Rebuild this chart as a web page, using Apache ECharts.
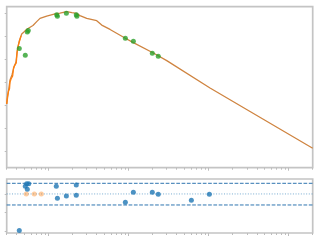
<!DOCTYPE html>
<html><head><meta charset="utf-8">
<script src="https://cdn.jsdelivr.net/npm/echarts@6/dist/echarts.min.js"></script>
<style>html,body{margin:0;padding:0;background:#fff}#c{width:320px;height:240px}</style>
</head><body><div id="c"></div>
<script>
// model curve (frequency, value)
const modelFreq = [3.0,3.11,3.30,3.49,3.70,3.92,4.07,4.31,4.62,4.93,5.23,5.54,5.86,6.39,7.11,7.82,9.48,12.05,13.9,16.87,19.6,22.5,24.7,30.0,40.0,46.2,58.7,91.2,114.8,204,300,1042,3297,20000];
const modelVal  = [2.07,2.46,3.11,3.33,3.67,3.89,4.41,4.80,5.10,5.19,5.28,5.34,5.41,5.47,5.64,5.78,5.88,5.97,6.01,6.07,6.03,6.00,5.90,5.78,5.68,5.49,5.30,4.92,4.73,4.28,3.95,2.76,1.74,0.15];
// raw measured trace (early part)
const rawFreq = [3.0,3.07,3.16,3.25,3.30,3.40,3.49,3.56,3.65,3.75,3.86,3.95,4.04,4.10,4.21,4.34,4.53];
const rawVal  = [2.07,2.41,2.63,2.72,3.02,3.15,3.19,3.28,3.63,3.72,3.76,3.85,4.28,4.41,4.63,4.80,5.02];
// fitted points
const ptFreq = [4.31,5.12,5.43,5.58,12.65,12.9,16.7,22.2,22.6,91.2,114.8,198,235];
const ptVal  = [4.47,4.18,5.19,5.25,5.94,5.87,6.00,5.94,5.87,4.92,4.79,4.27,4.14];
// residuals
const resFreq = [4.31,5.12,5.33,5.65,5.43,12.5,12.9,16.7,22.2,22.2,91.2,114.8,198,235,609,1022];
const resVal  = [-1.95,0.41,0.54,0.54,0.25,0.41,-0.23,-0.11,0.48,-0.07,-0.45,0.09,0.09,-0.02,-0.34,-0.02];
// masked residuals
const maskFreq = [5.27,6.64,8.12];
const maskVal  = [0,0,0];
// band limits
const bandUpper = 0.57, bandLower = -0.59, bandCenter = 0;
const xMin = 3, xMax = 20000;
const majorTicks = [10,100,1000,10000];
const minorTicks = [];
for (let e = 0; e <= 4; e++) for (let k = 2; k <= 9; k++) { const v = k * Math.pow(10, e); if (v >= xMin && v <= xMax) minorTicks.push(v); }
const topTicks = [0,1,2,3,4,5,6];
const botTicks = [-2,-1,0];

const zip = (a, b) => a.map((v, i) => [v, b[i]]);
const gray = '#bdbdbd';
function xAx(grid, ticks, len) {
  return {type:'log', logBase:10, gridIndex:grid, position:'bottom', min:xMin, max:xMax,
    axisLine:{show:false, onZero:false}, axisLabel:{show:false}, splitLine:{show:false}, minorTick:{show:false},
    axisTick:{show:true, length:len, inside:false, lineStyle:{color:gray, width:1}, customValues:ticks}};
}
function yAx(grid, mn, mx, ticks) {
  return {type:'value', gridIndex:grid, position:'left', min:mn, max:mx,
    axisLine:{show:false, onZero:false}, axisLabel:{show:false}, splitLine:{show:false},
    axisTick:{show:true, length:2, inside:false, lineStyle:{color:gray, width:1}, customValues:ticks}};
}
const chart = echarts.init(document.getElementById('c'), null, {renderer:'canvas'});
chart.setOption({
  animation:false,
  grid:[
    {left:6.7, top:6.7, width:306, height:161, show:true, borderColor:'#c4c4c4', borderWidth:1.7, backgroundColor:'transparent'},
    {left:6.7, top:179, width:306, height:54, show:true, borderColor:'#c4c4c4', borderWidth:1.7, backgroundColor:'transparent'}
  ],
  xAxis:[xAx(0, majorTicks, 3), xAx(0, minorTicks, 2), xAx(1, majorTicks, 3), xAx(1, minorTicks, 2)],
  yAxis:[yAx(0, -0.694, 6.286, topTicks), yAx(1, -2.09, 0.80, botTicks)],
  series:[
    {type:'line', xAxisIndex:0, yAxisIndex:0, data:zip(modelFreq, modelVal), showSymbol:false, lineStyle:{color:'#cf8440', width:1.3}, z:2},
    {type:'line', xAxisIndex:0, yAxisIndex:0, data:zip(rawFreq, rawVal), showSymbol:false, lineStyle:{color:'#ff7f0e', width:1.3}, z:3},
    {type:'scatter', xAxisIndex:0, yAxisIndex:0, data:zip(ptFreq, ptVal), symbolSize:5, itemStyle:{color:'#2ca02c'}, z:4},
    {type:'line', xAxisIndex:2, yAxisIndex:1, data:[[xMin,bandUpper],[xMax,bandUpper]], showSymbol:false, lineStyle:{color:'#2f75b0', width:1, type:[3.7,1.6]}, z:2},
    {type:'line', xAxisIndex:2, yAxisIndex:1, data:[[xMin,bandLower],[xMax,bandLower]], showSymbol:false, lineStyle:{color:'#2f75b0', width:1, type:[3.7,1.6]}, z:2},
    {type:'line', xAxisIndex:2, yAxisIndex:1, data:[[xMin,bandCenter],[xMax,bandCenter]], showSymbol:false, lineStyle:{color:'#1f77b4', opacity:0.6, width:1, type:[1,1.65]}, z:2},
    {type:'scatter', xAxisIndex:2, yAxisIndex:1, data:zip(maskFreq, maskVal), symbolSize:5, itemStyle:{color:'#ff7f0e', opacity:0.4}, z:3},
    {type:'scatter', xAxisIndex:2, yAxisIndex:1, data:zip(resFreq, resVal), symbolSize:5, itemStyle:{color:'#1f77b4'}, z:4}
  ]
});
</script></body></html>
